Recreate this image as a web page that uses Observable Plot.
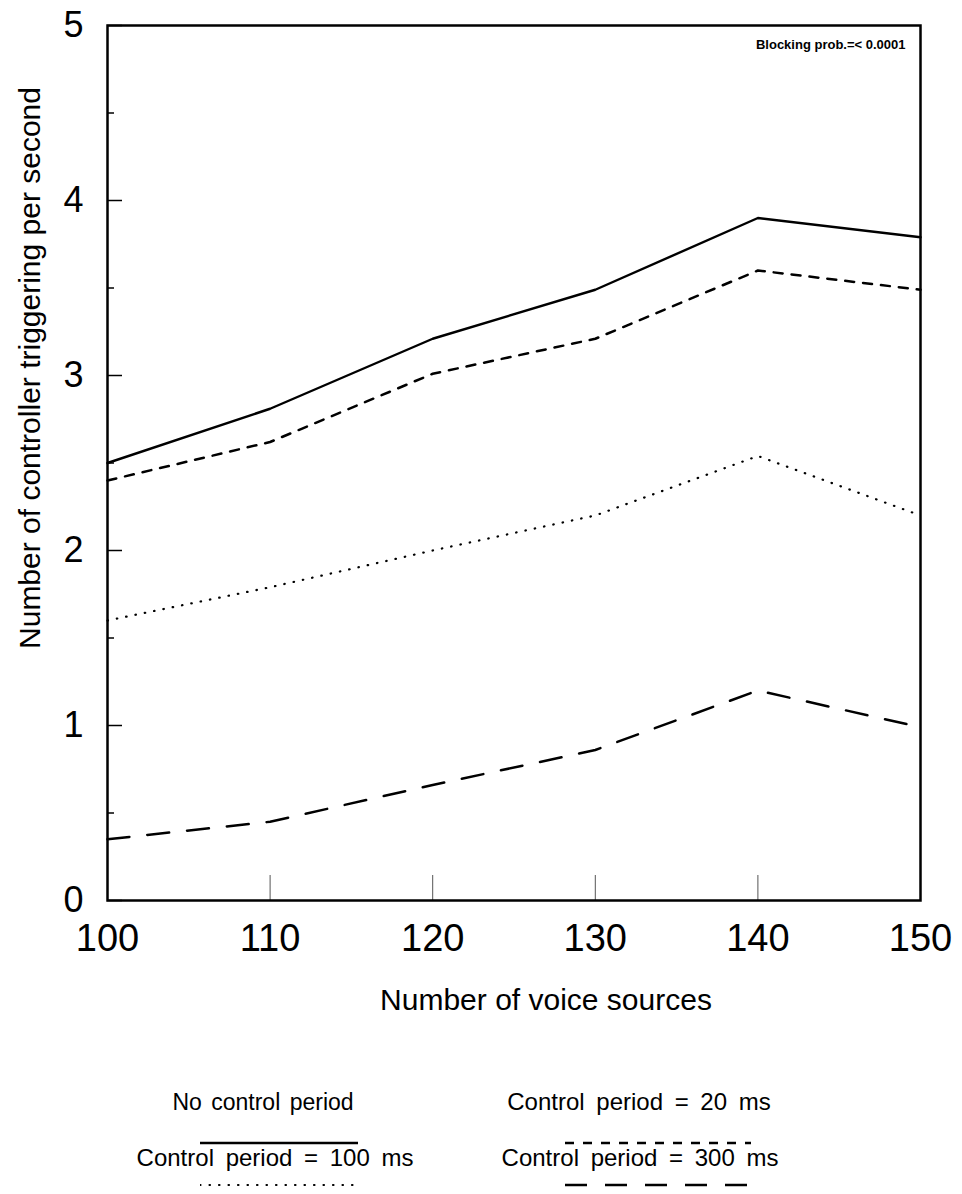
<!DOCTYPE html>
<html>
<head>
<meta charset="utf-8">
<script src="https://cdn.jsdelivr.net/npm/d3@7"></script>
<script src="https://cdn.jsdelivr.net/npm/@observablehq/plot@0.6"></script>
<style>
  html, body { margin: 0; padding: 0; background: white; }
  body { width: 962px; font-family: "Liberation Sans", Arial, sans-serif; color: black; }
  #legend { position: relative; width: 962px; height: 184px; }
  .item { position: absolute; transform: translate(-50%, -50%); white-space: nowrap; font-size: 23px; word-spacing: 3px; }
  .item.wide { font-size: 24px; word-spacing: 5px; }
  .sample { position: absolute; }
</style>
</head>
<body>
<div id="chart"></div>
<div id="legend"></div>
<script>
// ---- data ----
const voiceSources = [100, 110, 120, 130, 140, 150];
const noControl   = [2.5, 2.81, 3.21, 3.49, 3.9, 3.79];
const control20   = [2.4, 2.62, 3.01, 3.21, 3.6, 3.49];
const control100  = [1.6, 1.79, 2.0, 2.2, 2.54, 2.2];
const control300  = [0.35, 0.45, 0.66, 0.86, 1.2, 0.99];
const seriesNames = ["No control period", "Control period = 20 ms", "Control period = 100 ms", "Control period = 300 ms"];
const yMajorTicks = [0, 1, 2, 3, 4, 5];
const yMinorTicks = [0.5, 1.5, 2.5, 3.5, 4.5];
const xInnerTicks = [110, 120, 130, 140];
const xTitle = "Number of voice sources";
const yTitle = "Number of controller triggering per second";
const note = "Blocking prob.=< 0.0001";

const toRows = (vals) => voiceSources.map((x, i) => ({x, y: vals[i]}));

const lineStyles = [
  {strokeWidth: 2.4},
  {strokeWidth: 2.5, strokeDasharray: "9,9"},
  {strokeWidth: 2.2, strokeDasharray: "0.5,9", strokeLinecap: "round"},
  {strokeWidth: 2.5, strokeDasharray: "22,18"}
];
const seriesValues = [noControl, control20, control100, control300];

const chart = Plot.plot({
  width: 962,
  height: 1010,
  marginLeft: 107,
  marginRight: 42,
  marginTop: 25,
  marginBottom: 110,
  style: {fontFamily: "Liberation Sans, Arial, sans-serif", background: "white", color: "black", overflow: "visible"},
  x: {domain: [100, 150]},
  y: {domain: [0, 5]},
  marks: [
    Plot.axisY({ticks: yMajorTicks, tickSize: -15, tickFormat: () => "", label: null, strokeWidth: 1.5}),
    Plot.axisY({ticks: yMinorTicks, tickSize: -7, tickFormat: () => "", label: null, strokeWidth: 1.5}),
    Plot.axisY({ticks: yMajorTicks, tickSize: 0, tickPadding: 24, fontSize: 36, tickFormat: d => String(d), label: null}),
    Plot.axisX({ticks: xInnerTicks, tickSize: -25, tickFormat: () => "", label: null, stroke: "#555", strokeWidth: 1}),
    Plot.axisX({ticks: voiceSources, tickSize: 0, tickPadding: 24, fontSize: 38, tickFormat: d => String(d), label: null}),
    Plot.frame({strokeWidth: 2.5}),
    ...seriesValues.map((vals, i) => Plot.line(toRows(vals), {x: "x", y: "y", stroke: "black", strokeLinejoin: "round", ...lineStyles[i]})),
    Plot.text([yTitle], {text: d => d, frameAnchor: "left", textAnchor: "middle", lineAnchor: "middle", rotate: -90, dx: -77, dy: -95, fontSize: 30}),
    Plot.text([xTitle], {text: d => d, frameAnchor: "bottom", textAnchor: "middle", lineAnchor: "middle", dx: 32, dy: 100, fontSize: 30}),
    Plot.text([note], {text: d => d, frameAnchor: "top-right", textAnchor: "end", lineAnchor: "middle", dx: -15, dy: 19, fontSize: 13, fontWeight: "bold"})
  ]
});
document.getElementById("chart").appendChild(chart);

// ---- legend ----
const legend = document.getElementById("legend");
const legendPos = [
  {tx: 263, ty: 92, lx: 200, ly: 133},
  {tx: 639, ty: 92, lx: 565, ly: 133},
  {tx: 275, ty: 148, lx: 200, ly: 175},
  {tx: 640, ty: 148, lx: 565, ly: 175}
];
seriesNames.forEach((name, i) => {
  const p = legendPos[i];
  const t = document.createElement("div");
  t.className = i === 0 ? "item" : "item wide";
  t.style.left = p.tx + "px";
  t.style.top = p.ty + "px";
  t.textContent = name;
  legend.appendChild(t);
  const w = i % 2 === 0 ? 158 : 186;
  const svg = d3.create("svg").attr("class", "sample").attr("width", w).attr("height", 8)
    .style("left", p.lx + "px").style("top", (p.ly - 4) + "px");
  const s = lineStyles[i];
  svg.append("line").attr("x1", 0).attr("x2", w).attr("y1", 4).attr("y2", 4)
    .attr("stroke", "black").attr("stroke-width", s.strokeWidth)
    .attr("stroke-dasharray", s.strokeDasharray || null)
    .attr("stroke-linecap", s.strokeLinecap || null);
  legend.appendChild(svg.node());
});
</script>
</body>
</html>
